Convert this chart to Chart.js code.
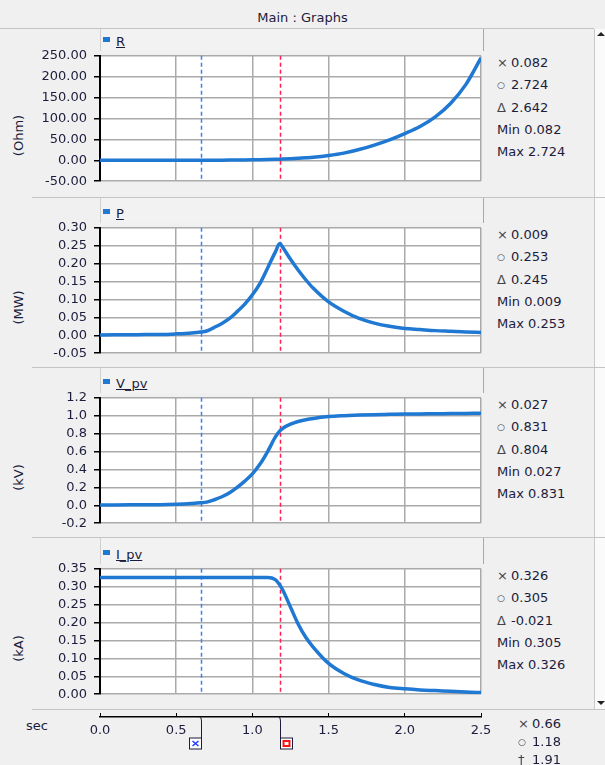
<!DOCTYPE html>
<html>
<head>
<meta charset="utf-8">
<script src="https://cdn.jsdelivr.net/npm/chart.js@4"></script>
<style>
  body { margin: 0; background: #f0f0f0; }
  #root { position: relative; width: 605px; height: 765px; background: #f0f0f0; overflow: hidden;
          font-family: "DejaVu Sans", sans-serif; font-size: 13px; color: #1c1c3c; }
  .abs { position: absolute; }
  .sep { position: absolute; height: 1px; background: #c4c4c4; }
  .head { position: absolute; left: 100px; width: 382px; background: #f2f2f2;
          border-left: 1px solid #d0d0d0; border-right: 1px solid #a8a8a8; }
  .leg-box { position: absolute; width: 7px; height: 5px; background: #1f78d2; }
  .leg-txt { position: absolute; text-decoration: underline; line-height: 15px; }
  .unit { position: absolute; width: 80px; text-align: center; transform: rotate(-90deg); line-height: 15px; }
  .ro { position: absolute; left: 497px; line-height: 15px; white-space: nowrap; }
  .sym { color: #444; display: inline-block; width: 14px; font-size: 13px; }
  .sym.small { font-size: 9px; vertical-align: 1px; }
  canvas { position: absolute; left: 0; }
</style>
</head>
<body>
<div id="root">
  <div class="abs" style="left:0;top:0;width:605px;height:28px;background:#f0f0f0;"></div>
  <div class="abs" style="left:0;top:10px;width:605px;text-align:center;">Main : Graphs</div>
  <div class="abs" style="left:594px;top:29px;width:11px;height:680px;background:#fafafa;border-left:1px solid #c8c8c8;"></div>
  <div class="abs" style="left:597px;top:32px;width:0;height:0;border-left:4px solid transparent;border-right:4px solid transparent;border-bottom:4px solid #222;"></div>
  <div class="abs" style="left:597px;top:701px;width:0;height:0;border-left:4px solid transparent;border-right:4px solid transparent;border-top:4px solid #222;"></div>
  <div class="abs" style="left:26px;top:718px;">sec</div>
</div>
<script>
// time axis (sec)
const times   = [0, 0.1, 0.2, 0.3, 0.4, 0.5, 0.6, 0.66, 0.7, 0.75, 0.8, 0.85, 0.9, 0.95, 1.0, 1.05, 1.1, 1.15, 1.18, 1.2,
                 1.25, 1.3, 1.35, 1.4, 1.5, 1.6, 1.7, 1.8, 1.9, 2.0, 2.1, 2.2, 2.3, 2.4, 2.5];
// R (Ohm)
const rValues = [0.01, 0.012, 0.015, 0.018, 0.021, 0.037, 0.061, 0.082, 0.107, 0.18, 0.28, 0.42, 0.6, 0.8, 1.07, 1.41, 1.84, 2.37, 2.724, 2.97,
                 3.74, 4.77, 6.0, 7.4, 11.5, 17.2, 25.8, 36.5, 49, 64, 81, 104, 136, 181, 245];
// P (MW)
const pValues = [0.001, 0.0013, 0.0016, 0.002, 0.0023, 0.004, 0.0065, 0.009, 0.012, 0.022, 0.033, 0.047, 0.066, 0.087, 0.113, 0.145, 0.188, 0.232, 0.256, 0.245,
                 0.212, 0.182, 0.155, 0.131, 0.093, 0.067, 0.047, 0.034, 0.025, 0.019, 0.016, 0.013, 0.011, 0.009, 0.008];
// V_pv (kV)
const vValues = [0.003, 0.004, 0.005, 0.006, 0.007, 0.012, 0.02, 0.027, 0.035, 0.062, 0.095, 0.14, 0.2, 0.27, 0.35, 0.46, 0.60, 0.76, 0.831, 0.86,
                 0.905, 0.935, 0.955, 0.97, 0.99, 1.0, 1.007, 1.012, 1.015, 1.018, 1.02, 1.022, 1.024, 1.026, 1.028];
// I_pv (kA)
const iValues = [0.326, 0.326, 0.326, 0.326, 0.326, 0.326, 0.326, 0.326, 0.326, 0.326, 0.326, 0.326, 0.326, 0.326, 0.326, 0.326, 0.326, 0.32, 0.305, 0.29,
                 0.243, 0.196, 0.159, 0.131, 0.086, 0.058, 0.039, 0.027, 0.019, 0.015, 0.012, 0.01, 0.008, 0.006, 0.0045];

const xTicks = [0, 0.5, 1.0, 1.5, 2.0, 2.5];
const rTicks = [-50, 0, 50, 100, 150, 200, 250];
const pTicks = [-0.05, 0, 0.05, 0.10, 0.15, 0.20, 0.25, 0.30];
const vTicks = [-0.2, 0, 0.2, 0.4, 0.6, 0.8, 1.0, 1.2];
const iTicks = [0, 0.05, 0.10, 0.15, 0.20, 0.25, 0.30, 0.35];

const seriesNames = ['R', 'P', 'V_pv', 'I_pv'];
const unitLabels = ['(Ohm)', '(MW)', '(kV)', '(kA)'];
const readoutSymbols = ['\u00d7', '\u25cb', '\u0394', 'Min', 'Max'];
const rReadout = ['0.082', '2.724', '2.642', '0.082', '2.724'];
const pReadout = ['0.009', '0.253', '0.245', '0.009', '0.253'];
const vReadout = ['0.027', '0.831', '0.804', '0.027', '0.831'];
const iReadout = ['0.326', '0.305', '-0.021', '0.305', '0.326'];
const cursorTimes = [0.66, 1.18];
const cursorSymbols = ['\u00d7', '\u25cb', '\u2020'];
const cursorReadout = ['0.66', '1.18', '1.91'];

const panels = [
  { values: rValues, ticks: rTicks, dec: 2, readout: rReadout },
  { values: pValues, ticks: pTicks, dec: 2, readout: pReadout },
  { values: vValues, ticks: vTicks, dec: 1, readout: vReadout },
  { values: iValues, ticks: iTicks, dec: 2, readout: iReadout }
];
const plotTops = [51, 223, 393, 564];
const sepTops = [28, 197, 367, 537, 709];
const plotH = 135;
const lineBlue = '#1f78d2';
const cursorColors = ['#3d7eff', '#ff2050'];
const font = { family: 'DejaVu Sans', size: 13 };

const root = document.getElementById('root');
function add(html) { root.insertAdjacentHTML('beforeend', html); }
function symSpan(s) {
  return '<span class="sym' + (s === '\u25cb' ? ' small' : '') + '">' + s + '</span>';
}

sepTops.forEach(function (y, k) {
  add('<div class="sep" style="top:' + y + 'px;left:' + (k === 0 ? 0 : 32) + 'px;width:594px;"></div>');
});

const plotBg = {
  id: 'plotBg',
  beforeDraw: function (chart) {
    const a = chart.chartArea, c = chart.ctx;
    c.save(); c.fillStyle = '#fff'; c.fillRect(a.left, a.top, a.right - a.left, a.bottom - a.top); c.restore();
  }
};
const cursorLines = {
  id: 'cursorLines',
  beforeDatasetsDraw: function (chart) {
    const a = chart.chartArea, c = chart.ctx, xs = chart.scales.x;
    c.save();
    c.lineWidth = 1.5;
    c.setLineDash([4, 3]);
    cursorTimes.forEach(function (t, k) {
      const px = Math.round(xs.getPixelForValue(t)) + 0.5;
      c.strokeStyle = cursorColors[k];
      c.beginPath(); c.moveTo(px, a.top); c.lineTo(px, a.bottom); c.stroke();
    });
    c.restore();
  }
};

panels.forEach(function (p, k) {
  const top = plotTops[k];
  const headTop = sepTops[k] + 1;
  add('<div class="head" style="top:' + headTop + 'px;height:' + (top - headTop) + 'px;"></div>');
  add('<div class="leg-box" style="left:103px;top:' + (top - 14) + 'px;"></div>');
  add('<div class="leg-txt" style="left:116px;top:' + (top - 17) + 'px;">' + seriesNames[k] + '</div>');
  add('<div class="unit" style="left:-22px;top:' + (top + plotH / 2 + 9) + 'px;">' + unitLabels[k] + '</div>');
  p.readout.forEach(function (v, j) {
    const sym = j < 3 ? symSpan(readoutSymbols[j]) : readoutSymbols[j] + ' ';
    add('<div class="ro" style="top:' + (top + 4 + j * 22.3) + 'px;">' + sym + v + '</div>');
  });

  const cv = document.createElement('canvas');
  cv.width = 485; cv.height = plotH + 20;
  cv.style.top = (top - 10) + 'px';
  root.appendChild(cv);

  new Chart(cv.getContext('2d'), {
    type: 'line',
    data: {
      datasets: [{
        data: times.map(function (t, i) { return { x: t, y: p.values[i] }; }),
        borderColor: lineBlue, borderWidth: 3.5, pointRadius: 0,
        cubicInterpolationMode: 'monotone', fill: false
      }]
    },
    options: {
      responsive: false, animation: false,
      layout: { padding: { top: 10, bottom: 10, left: 0, right: 4 } },
      plugins: { legend: { display: false }, tooltip: { enabled: false } },
      scales: {
        x: {
          type: 'linear', min: 0, max: 2.5,
          afterBuildTicks: function (s) { s.ticks = xTicks.map(function (v) { return { value: v }; }); },
          afterFit: function (s) { s.height = 0; s.paddingLeft = 0; s.paddingRight = 0; },
          ticks: { display: false },
          grid: { color: '#aaaaaa', lineWidth: 1.5, drawTicks: false },
          border: { display: false }
        },
        y: {
          min: p.ticks[0], max: p.ticks[p.ticks.length - 1],
          afterBuildTicks: function (s) { s.ticks = p.ticks.map(function (v) { return { value: v }; }); },
          afterFit: function (s) { s.width = 100; },
          ticks: { font: font, color: '#1c1c3c', padding: 7,
                   callback: function (v) { return Number(v).toFixed(p.dec); } },
          grid: { color: '#aaaaaa', lineWidth: 1.5, tickColor: '#000', tickLength: 6, tickWidth: 1.5 },
          border: { color: '#000', width: 2 }
        }
      }
    },
    plugins: [plotBg, cursorLines]
  });
});

// bottom time axis with cursor flags
cursorReadout.forEach(function (v, j) {
  add('<div class="ro" style="left:518px;top:' + (716 + j * 18) + 'px;">' + symSpan(cursorSymbols[j]) + v + '</div>');
});

const flags = {
  id: 'flags',
  afterDraw: function (chart) {
    const c = chart.ctx, xs = chart.scales.x, b = chart.chartArea.bottom;
    c.save();
    cursorTimes.forEach(function (t, k) {
      const px = Math.round(xs.getPixelForValue(t)) + 0.5;
      c.strokeStyle = '#1c1c3c'; c.lineWidth = 1;
      c.beginPath(); c.moveTo(px - 2, b); c.quadraticCurveTo(px, b, px, b + 4); c.lineTo(px, b + 21); c.stroke();
      const bx = k === 0 ? px - 12 : px;
      c.fillStyle = '#fff';
      c.fillRect(bx, b + 21, 12, 11);
      c.strokeRect(bx, b + 21, 12, 11);
      if (k === 0) {
        c.strokeStyle = '#1f3cff'; c.lineWidth = 1.5;
        c.beginPath(); c.moveTo(bx + 3, b + 24); c.lineTo(bx + 9, b + 29); c.moveTo(bx + 9, b + 24); c.lineTo(bx + 3, b + 29); c.stroke();
      } else {
        c.strokeStyle = '#ff1010'; c.lineWidth = 2;
        c.strokeRect(bx + 3, b + 24, 6, 5);
      }
    });
    c.restore();
  }
};

const ax = document.createElement('canvas');
ax.width = 505; ax.height = 60;
ax.style.top = '705px';
root.appendChild(ax);
new Chart(ax.getContext('2d'), {
  type: 'line',
  data: { datasets: [{ data: [] }] },
  options: {
    responsive: false, animation: false,
    layout: { padding: { top: 8, bottom: 0, left: 100, right: 24 } },
    plugins: { legend: { display: false }, tooltip: { enabled: false } },
    scales: {
      x: {
        type: 'linear', min: 0, max: 2.5,
        afterBuildTicks: function (s) { s.ticks = xTicks.map(function (v) { return { value: v }; }); },
        afterFit: function (s) { s.height = 48; s.paddingLeft = 0; s.paddingRight = 0; },
        ticks: { font: font, color: '#1c1c3c', padding: 6, maxRotation: 0,
                 callback: function (v) { return Number(v).toFixed(1); } },
        grid: { color: '#000', lineWidth: 1, drawTicks: false },
        border: { color: '#000', width: 1.5 }
      },
      y: { display: false, min: 0, max: 1 }
    }
  },
  plugins: [flags]
});
</script>
</body>
</html>
